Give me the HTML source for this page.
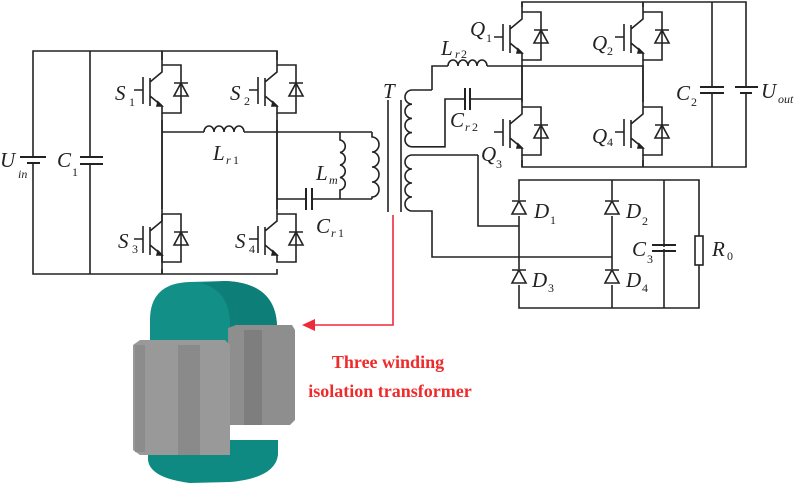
<!DOCTYPE html>
<html><head><meta charset="utf-8"><style>
html,body{margin:0;padding:0;background:#fff;}
svg{display:block}
.t{font-family:"Liberation Serif",serif;font-style:italic;font-size:21px;fill:#222}
.s{font-family:"Liberation Serif",serif;font-size:12px;fill:#222}
</style></head><body>
<svg width="800" height="488" viewBox="0 0 800 488" xmlns="http://www.w3.org/2000/svg">
<defs>
<g id="sw" fill="none" stroke="#222" stroke-width="1.6">
<path d="M0,0 V7 L-12,17 M-12,13 V41 M-19,12 V39 M-28,25 H-19 M-12,31 L0,41 V48 H19 V0 H0"/>
<path d="M12,18 H26 M19,18 L12,31 H26 Z"/>
<path d="M-4,37 L0,41 L-5,41 Z" fill="#222"/>
</g>
<g id="di" fill="none" stroke="#222" stroke-width="1.6">
<path d="M-7,-7 H7 M0,-7 L-7,6 H7 Z"/>
</g>
</defs>
<g fill="none" stroke="#222" stroke-width="1.6">
<!-- left bridge -->
<path d="M33,51 H277 V274 H33 Z M90,51 V274 M162,51 V274"/>
<path d="M33,158 V162 M90,158 V163" stroke="#fff" stroke-width="3"/>
<path d="M20,157 H46 M27,163 H40" stroke-width="2"/>
<path d="M80,157 H103 M80,164 H103" stroke-width="2"/>
<path d="M162,132 H204 M244,132 H372 M277,199 H306 M312,199 H372"/>
<path d="M204,132 a5,6 0 0 1 10,0 a5,6 0 0 1 10,0 a5,6 0 0 1 10,0 a5,6 0 0 1 10,0" />
<path d="M306,188 V210 M312,188 V210" stroke-width="2"/>
<path d="M340,132 V140 a6,6.3 0 0 1 0,12.5 a6,6.3 0 0 1 0,12.5 a6,6.3 0 0 1 0,12.5 a6,6.3 0 0 1 0,12.5 V199"/>
<path d="M372,132 V137 a7,7.5 0 0 1 0,15 a7,7.5 0 0 1 0,15 a7,7.5 0 0 1 0,15 a7,7.5 0 0 1 0,15 V199"/>
<!-- core -->
<path d="M388,100 V212 M401,100 V212"/>
<!-- secondary windings -->
<path d="M432,90 H412 a7,7.1 0 0 0 0,14.2 a7,7.1 0 0 0 0,14.2 a7,7.1 0 0 0 0,14.2 a7,7.1 0 0 0 0,14.2 H445 V99 H465 M470,99 H522"/>
<path d="M432,90 V66 H448 M487,66 H643"/>
<path d="M448,66 a5,6 0 0 1 10,0 a5,6 0 0 1 10,0 a4.5,6 0 0 1 9,0 a5,6 0 0 1 10,0"/>
<path d="M465,88 V110 M470,88 V110" stroke-width="2"/>
<path d="M478,155 H412 a7,7 0 0 0 0,14 a7,7 0 0 0 0,14 a7,7 0 0 0 0,14 a7,7 0 0 0 0,14 H432 V257 H612 M478,155 V226 H519"/>
<!-- Q bridge -->
<path d="M522,2 H746 V167 H522 Z M643,2 V167 M712,2 V167 M522,2 V167"/>
<path d="M712,88 V92 M746,88 V92" stroke="#fff" stroke-width="3"/>
<path d="M700,87 H724 M700,93 H724 M735,87 H758 M740,93 H752" stroke-width="2"/>
<!-- diode bridge -->
<path d="M519,180 H699 V308 H519 Z M612,180 V308 M664,180 V308"/>
<path d="M664,247 V249" stroke="#fff" stroke-width="3"/>
<path d="M652,245 H676 M652,251 H676" stroke-width="2"/>
<rect x="695" y="236" width="8" height="29" fill="#fff"/>
</g>
<g fill="#fff">
<rect x="140" y="60" width="50" height="60"/><rect x="140" y="209" width="50" height="60"/>
<rect x="255" y="60" width="50" height="60"/><rect x="255" y="209" width="50" height="60"/>
<rect x="500" y="7" width="50" height="58"/><rect x="500" y="102" width="50" height="58"/>
<rect x="621" y="7" width="50" height="58"/><rect x="621" y="102" width="50" height="58"/>
</g>
<g stroke="#222" stroke-width="1.6"><path d="M162,51 V65 M162,113 V274 M277,51 V65 M277,113 V214 M162,132 V214 M522,2 V12 M522,60 V107 M522,155 V167 M643,2 V12 M643,60 V107 M643,155 V167"/></g>
<use href="#sw" x="162" y="65"/><use href="#sw" x="162" y="214"/>
<use href="#sw" x="277" y="65"/><use href="#sw" x="277" y="214"/>
<use href="#sw" x="522" y="12"/><use href="#sw" x="522" y="107"/>
<use href="#sw" x="643" y="12"/><use href="#sw" x="643" y="107"/>
<g fill="#fff"><rect x="512" y="200" width="14" height="16"/><rect x="605" y="200" width="14" height="16"/><rect x="512" y="269" width="14" height="16"/><rect x="605" y="269" width="14" height="16"/></g>
<use href="#di" x="519" y="208"/><use href="#di" x="612" y="208"/>
<use href="#di" x="519" y="277"/><use href="#di" x="612" y="277"/>
<!-- labels -->
<text class="t" x="0" y="167">U</text><text class="s" x="18" y="178" font-style="italic">in</text>
<text class="t" x="57" y="167">C</text><text class="s" x="72" y="176">1</text>
<text class="t" x="115" y="100">S</text><text class="s" x="129" y="106">1</text>
<text class="t" x="230" y="100">S</text><text class="s" x="244" y="105">2</text>
<text class="t" x="118" y="248">S</text><text class="s" x="132" y="253">3</text>
<text class="t" x="235" y="248">S</text><text class="s" x="249" y="253">4</text>
<text class="t" x="213" y="160">L</text><text class="s" x="226" y="164" font-style="italic">r</text><text class="s" x="233" y="164">1</text>
<text class="t" x="316" y="180">L</text><text class="s" x="329" y="184" font-style="italic">m</text>
<text class="t" x="316" y="233">C</text><text class="s" x="331" y="237" font-style="italic">r</text><text class="s" x="338" y="237">1</text>
<text class="t" x="383" y="98">T</text>
<text class="t" x="441" y="55">L</text><text class="s" x="455" y="58" font-style="italic">r</text><text class="s" x="461" y="58">2</text>
<text class="t" x="470" y="36">Q</text><text class="s" x="486" y="42">1</text>
<text class="t" x="592" y="50">Q</text><text class="s" x="607" y="55">2</text>
<text class="t" x="450" y="127">C</text><text class="s" x="465" y="131" font-style="italic">r</text><text class="s" x="472" y="131">2</text>
<text class="t" x="481" y="161">Q</text><text class="s" x="496" y="168">3</text>
<text class="t" x="592" y="143">Q</text><text class="s" x="607" y="146">4</text>
<text class="t" x="676" y="100">C</text><text class="s" x="691" y="106">2</text>
<text class="t" x="761" y="98">U</text><text class="s" x="778" y="103" font-style="italic">out</text>
<text class="t" x="534" y="218">D</text><text class="s" x="550" y="224">1</text>
<text class="t" x="626" y="218">D</text><text class="s" x="642" y="225">2</text>
<text class="t" x="532" y="287">D</text><text class="s" x="548" y="292">3</text>
<text class="t" x="626" y="287">D</text><text class="s" x="642" y="292">4</text>
<text class="t" x="632" y="256">C</text><text class="s" x="647" y="263">3</text>
<text class="t" x="712" y="256">R</text><text class="s" x="727" y="260">0</text>
<!-- red arrow -->
<path d="M393,215 V325 H312" fill="none" stroke="#ee2a3a" stroke-width="1.6"/>
<path d="M302,325 L315,319 L315,331 Z" fill="#ee2a3a"/>
<g font-family="Liberation Serif,serif" font-weight="bold" font-size="18" fill="#ee2a2a" text-anchor="middle">
<text x="388" y="368">Three winding</text><text x="390" y="397">isolation transformer</text></g>
<!-- 3D transformer -->
<path d="M150,345 V320 Q150,283 190,282 L225,281 Q278,283 277,330 V345 Z" fill="#128f86"/>
<path d="M200,283 L225,281 Q278,283 277,330 V345 H230 V325 Q230,290 200,283 Z" fill="#0e7f78"/>
<path d="M148,440 H278 V455 Q275,478 230,482 L190,483 Q150,478 148,460 Z" fill="#0f8a82"/>
<path d="M228,328 L236,325 H292 L295,330 V420 L290,425 H228 Z" fill="#8e8e8e"/>
<path d="M244,330 H262 V425 H244 Z" fill="#7e7e7e"/>
<path d="M133,345 L140,340 H225 L230,345 V455 H140 L133,450 Z" fill="#999"/>
<path d="M178,345 H200 V455 H178 Z" fill="#8a8a8a"/>
<path d="M135,345 H145 V452 H135 Z" fill="#8c8c8c"/>
</svg>
</body></html>
